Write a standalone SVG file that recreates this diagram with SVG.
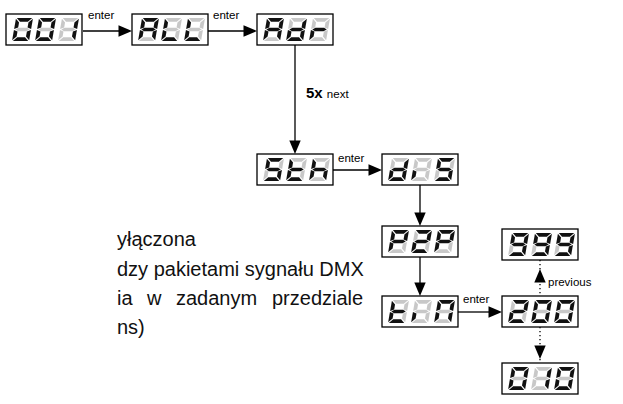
<svg xmlns="http://www.w3.org/2000/svg" xmlns:xlink="http://www.w3.org/1999/xlink" width="623" height="404" viewBox="0 0 623 404">
<style>
.box{fill:#fff;stroke:#000;stroke-width:1.3}
.on{fill:#111}
.off{fill:#c8c8c8}
.ln{stroke:#000;stroke-width:1.3;fill:none}
.dot{stroke:#000;stroke-width:1.3;fill:none;stroke-dasharray:1.2 2.8}
.hd{fill:#000}
.lbl{font-family:"Liberation Sans",Arial,sans-serif;font-size:11.5px;fill:#000}
.body{font-family:"Liberation Sans",Arial,sans-serif;font-size:20px;fill:#111}
</style>
<defs>
<polygon id="sa" points="0.8,0 16.2,0 12.4,3.8 4.6,3.8"/>
<polygon id="sb" points="17,0.8 17,10.9 13.2,9.6 13.2,4.6"/>
<polygon id="sc" points="17,12.1 17,22.2 13.2,18.4 13.2,13.4"/>
<polygon id="sd" points="4.6,19.2 12.4,19.2 16.2,23 0.8,23"/>
<polygon id="se" points="0,12.1 3.8,13.4 3.8,18.4 0,22.2"/>
<polygon id="sf" points="0,0.8 3.8,4.6 3.8,9.6 0,10.9"/>
<polygon id="sg" points="1.3,11.5 4.2,9.7 12.8,9.7 15.7,11.5 12.8,13.3 4.2,13.3"/>
<g id="c0"><use href="#sa" class="on"/><use href="#sb" class="on"/><use href="#sc" class="on"/><use href="#sd" class="on"/><use href="#se" class="on"/><use href="#sf" class="on"/><use href="#sg" class="off"/></g>
<g id="c1"><use href="#sa" class="off"/><use href="#sb" class="on"/><use href="#sc" class="on"/><use href="#sd" class="off"/><use href="#se" class="off"/><use href="#sf" class="off"/><use href="#sg" class="off"/></g>
<g id="c2"><use href="#sa" class="on"/><use href="#sb" class="on"/><use href="#sc" class="off"/><use href="#sd" class="on"/><use href="#se" class="on"/><use href="#sf" class="off"/><use href="#sg" class="on"/></g>
<g id="c9"><use href="#sa" class="on"/><use href="#sb" class="on"/><use href="#sc" class="on"/><use href="#sd" class="on"/><use href="#se" class="off"/><use href="#sf" class="on"/><use href="#sg" class="on"/></g>
<g id="cA"><use href="#sa" class="on"/><use href="#sb" class="on"/><use href="#sc" class="on"/><use href="#sd" class="off"/><use href="#se" class="on"/><use href="#sf" class="on"/><use href="#sg" class="on"/></g>
<g id="cL"><use href="#sa" class="off"/><use href="#sb" class="off"/><use href="#sc" class="off"/><use href="#sd" class="on"/><use href="#se" class="on"/><use href="#sf" class="on"/><use href="#sg" class="off"/></g>
<g id="cd"><use href="#sa" class="off"/><use href="#sb" class="on"/><use href="#sc" class="on"/><use href="#sd" class="on"/><use href="#se" class="on"/><use href="#sf" class="off"/><use href="#sg" class="on"/></g>
<g id="cr"><use href="#sa" class="off"/><use href="#sb" class="off"/><use href="#sc" class="off"/><use href="#sd" class="off"/><use href="#se" class="on"/><use href="#sf" class="off"/><use href="#sg" class="on"/></g>
<g id="cS"><use href="#sa" class="on"/><use href="#sb" class="off"/><use href="#sc" class="on"/><use href="#sd" class="on"/><use href="#se" class="off"/><use href="#sf" class="on"/><use href="#sg" class="on"/></g>
<g id="ct"><use href="#sa" class="off"/><use href="#sb" class="off"/><use href="#sc" class="off"/><use href="#sd" class="on"/><use href="#se" class="on"/><use href="#sf" class="on"/><use href="#sg" class="on"/></g>
<g id="ch"><use href="#sa" class="off"/><use href="#sb" class="off"/><use href="#sc" class="on"/><use href="#sd" class="off"/><use href="#se" class="on"/><use href="#sf" class="on"/><use href="#sg" class="on"/></g>
<g id="ci"><use href="#sa" class="off"/><use href="#sb" class="off"/><use href="#sc" class="off"/><use href="#sd" class="off"/><use href="#se" class="on"/><use href="#sf" class="off"/><use href="#sg" class="off"/></g>
<g id="cP"><use href="#sa" class="on"/><use href="#sb" class="on"/><use href="#sc" class="off"/><use href="#sd" class="off"/><use href="#se" class="on"/><use href="#sf" class="on"/><use href="#sg" class="on"/></g>
<g id="cn"><use href="#sa" class="on"/><use href="#sb" class="on"/><use href="#sc" class="on"/><use href="#sd" class="off"/><use href="#se" class="on"/><use href="#sf" class="on"/><use href="#sg" class="off"/></g>
<rect id="bx" class="box" width="76" height="31"/>
</defs>

<g id="text-body" class="body">
<text x="117" y="246">yłączona</text>
<text x="117" y="276">dzy pakietami sygnału DMX</text>
<text y="305"><tspan x="117">ia</tspan><tspan x="147">w</tspan><tspan x="176">zadanym</tspan><tspan x="272">przedziale</tspan></text>
<text x="117" y="334">ns)</text>
</g>

<g id="connectors">
<line class="ln" x1="83" y1="31" x2="120" y2="31"/><polygon class="hd" points="132,31 118.5,25.3 118.5,36.7"/>
<line class="ln" x1="208" y1="31" x2="245" y2="31"/><polygon class="hd" points="257,31 243.5,25.3 243.5,36.7"/>
<line class="ln" x1="295" y1="45" x2="295" y2="142"/><polygon class="hd" points="295,154 289.3,140.5 300.7,140.5"/>
<line class="ln" x1="333" y1="170" x2="370" y2="170"/><polygon class="hd" points="382,170 368.5,164.3 368.5,175.7"/>
<line class="ln" x1="420" y1="185" x2="420" y2="214"/><polygon class="hd" points="420,226 414.3,212.5 425.7,212.5"/>
<line class="ln" x1="420" y1="257" x2="420" y2="284"/><polygon class="hd" points="420,296 414.3,282.5 425.7,282.5"/>
<line class="ln" x1="458" y1="312" x2="490" y2="312"/><polygon class="hd" points="502,312 488.5,306.3 488.5,317.7"/>
<line class="dot" x1="540" y1="260" x2="540" y2="296"/><polygon class="hd" points="540,269 534.3,282.5 545.7,282.5"/>
<line class="dot" x1="540" y1="327" x2="540" y2="363"/><polygon class="hd" points="540,359 534.3,345.5 545.7,345.5"/>
<text class="lbl" x="88" y="19">enter</text>
<text class="lbl" x="213" y="19">enter</text>
<text x="306" y="98" font-family="Liberation Sans, Arial, sans-serif" font-size="15" font-weight="bold">5x <tspan font-weight="normal" font-size="11.5">next</tspan></text>
<text class="lbl" x="338" y="162">enter</text>
<text class="lbl" x="463" y="303">enter</text>
<text class="lbl" x="548" y="286">previous</text>
</g>

<g id="n001" transform="translate(6,14)"><use href="#bx"/><use href="#c0" transform="translate(6,27) skewX(-10) translate(0,-23)"/><use href="#c0" transform="translate(29,27) skewX(-10) translate(0,-23)"/><use href="#c1" transform="translate(52,27) skewX(-10) translate(0,-23)"/></g>
<g id="nALL" transform="translate(132,14)"><use href="#bx"/><use href="#cA" transform="translate(6,27) skewX(-10) translate(0,-23)"/><use href="#cL" transform="translate(29,27) skewX(-10) translate(0,-23)"/><use href="#cL" transform="translate(52,27) skewX(-10) translate(0,-23)"/></g>
<g id="nAdr" transform="translate(257,14)"><use href="#bx"/><use href="#cA" transform="translate(6,27) skewX(-10) translate(0,-23)"/><use href="#cd" transform="translate(29,27) skewX(-10) translate(0,-23)"/><use href="#cr" transform="translate(52,27) skewX(-10) translate(0,-23)"/></g>
<g id="nSth" transform="translate(257,154)"><use href="#bx"/><use href="#cS" transform="translate(6,27) skewX(-10) translate(0,-23)"/><use href="#ct" transform="translate(29,27) skewX(-10) translate(0,-23)"/><use href="#ch" transform="translate(52,27) skewX(-10) translate(0,-23)"/></g>
<g id="ndis" transform="translate(382,154)"><use href="#bx"/><use href="#cd" transform="translate(6,27) skewX(-10) translate(0,-23)"/><use href="#ci" transform="translate(29,27) skewX(-10) translate(0,-23)"/><use href="#cS" transform="translate(52,27) skewX(-10) translate(0,-23)"/></g>
<g id="nP2P" transform="translate(382,226)"><use href="#bx"/><use href="#cP" transform="translate(6,27) skewX(-10) translate(0,-23)"/><use href="#c2" transform="translate(29,27) skewX(-10) translate(0,-23)"/><use href="#cP" transform="translate(52,27) skewX(-10) translate(0,-23)"/></g>
<g id="ntin" transform="translate(382,296)"><use href="#bx"/><use href="#ct" transform="translate(6,27) skewX(-10) translate(0,-23)"/><use href="#ci" transform="translate(29,27) skewX(-10) translate(0,-23)"/><use href="#cn" transform="translate(52,27) skewX(-10) translate(0,-23)"/></g>
<g id="n200" transform="translate(502,296)"><use href="#bx"/><use href="#c2" transform="translate(6,27) skewX(-10) translate(0,-23)"/><use href="#c0" transform="translate(29,27) skewX(-10) translate(0,-23)"/><use href="#c0" transform="translate(52,27) skewX(-10) translate(0,-23)"/></g>
<g id="n999" transform="translate(502,229)"><use href="#bx"/><use href="#c9" transform="translate(6,27) skewX(-10) translate(0,-23)"/><use href="#c9" transform="translate(29,27) skewX(-10) translate(0,-23)"/><use href="#c9" transform="translate(52,27) skewX(-10) translate(0,-23)"/></g>
<g id="n010" transform="translate(502,363)"><use href="#bx"/><use href="#c0" transform="translate(6,27) skewX(-10) translate(0,-23)"/><use href="#c1" transform="translate(29,27) skewX(-10) translate(0,-23)"/><use href="#c0" transform="translate(52,27) skewX(-10) translate(0,-23)"/></g>
</svg>
